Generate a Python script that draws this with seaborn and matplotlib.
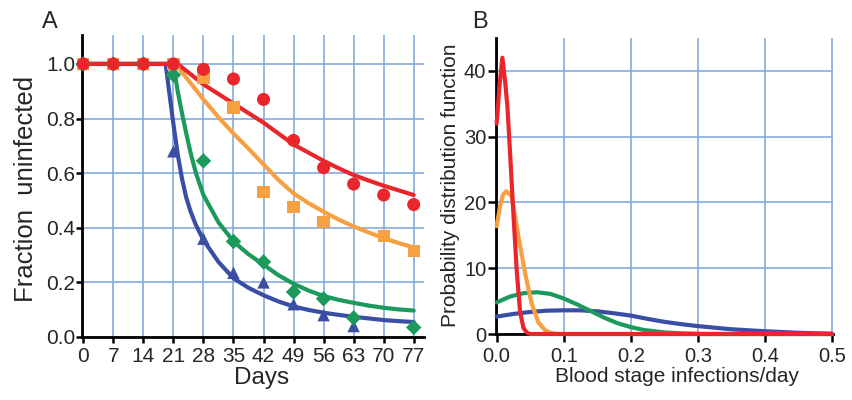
import matplotlib
matplotlib.use("Agg")
import matplotlib.pyplot as plt
from matplotlib.ticker import FormatStrFormatter
import seaborn as sns

# ---------------- Panel A data ----------------
day_ticks = [0, 7, 14, 21, 28, 35, 42, 49, 56, 63, 70, 77]
frac_ticks = [0.0, 0.2, 0.4, 0.6, 0.8, 1.0]

red_days = [0, 7, 14, 21, 28, 35, 42, 49, 56, 63, 70, 77]
red_obs = [1.0, 1.0, 1.0, 1.0, 0.98, 0.945, 0.87, 0.72, 0.62, 0.56, 0.52, 0.485]
orange_days = [0, 7, 14, 21, 28, 35, 42, 49, 56, 70, 77]
orange_obs = [1.0, 1.0, 1.0, 1.0, 0.95, 0.84, 0.53, 0.475, 0.42, 0.37, 0.315]
green_days = [0, 7, 14, 21, 28, 35, 42, 49, 56, 63, 77]
green_obs = [1.0, 1.0, 1.0, 0.96, 0.645, 0.35, 0.275, 0.165, 0.14, 0.07, 0.035]
blue_days = [0, 7, 14, 21, 28, 35, 42, 49, 56, 63]
blue_obs = [1.0, 1.0, 1.0, 0.68, 0.36, 0.235, 0.2, 0.12, 0.08, 0.04]

red_fit_days = [0, 22, 24, 28, 31.5, 35, 38.5, 42, 45.5, 49, 52.5, 56, 59.5, 63, 66.5, 70, 73.5, 77]
red_fit = [1.0, 1.0, 0.975, 0.925, 0.89, 0.855, 0.82, 0.785, 0.745, 0.705, 0.675, 0.645,
           0.618, 0.593, 0.573, 0.554, 0.537, 0.52]
orange_fit_days = [0, 21.5, 23, 25, 28, 31.5, 35, 38.5, 42, 45.5, 49, 52.5, 56, 59.5, 63,
                   66.5, 70, 73.5, 77]
orange_fit = [1.0, 1.0, 0.97, 0.93, 0.87, 0.805, 0.745, 0.69, 0.632, 0.575, 0.526, 0.49,
              0.459, 0.43, 0.405, 0.383, 0.362, 0.344, 0.328]
green_fit_days = [0, 21, 21.5, 22, 22.5, 23, 24, 25, 26.25, 28, 31.5, 35, 38.5, 42, 45.5,
                  49, 52.5, 56, 59.5, 63, 66.5, 70, 73.5, 77]
green_fit = [1.0, 1.0, 0.95, 0.9, 0.86, 0.82, 0.745, 0.675, 0.6, 0.52, 0.42, 0.35, 0.303,
             0.265, 0.226, 0.195, 0.17, 0.15, 0.136, 0.125, 0.115, 0.107, 0.101, 0.097]
blue_fit_days = [0, 19.2, 20, 21, 22, 23, 24, 25, 26.25, 28, 31.5, 35, 38.5, 42, 45.5, 49,
                 52.5, 56, 59.5, 63, 66.5, 70, 73.5, 77]
blue_fit = [1.0, 1.0, 0.9, 0.78, 0.67, 0.58, 0.51, 0.46, 0.41, 0.355, 0.275, 0.215, 0.18,
            0.153, 0.13, 0.112, 0.099, 0.089, 0.081, 0.074, 0.068, 0.062, 0.058, 0.055]

# ---------------- Panel B data ----------------
rate_ticks = [0.0, 0.1, 0.2, 0.3, 0.4, 0.5]
pdf_ticks = [0, 10, 20, 30, 40]

red_rate = [0, 0.004, 0.0085, 0.0125, 0.016, 0.02, 0.025, 0.03, 0.035, 0.04, 0.045, 0.05, 0.5]
red_pdf = [32.0, 37.5, 42.0, 38.5, 34.6, 27.5, 18.2, 9.5, 3.3, 0.9, 0.2, 0.0, 0.0]
orange_rate = [0, 0.005, 0.0095, 0.0145, 0.0225, 0.0325, 0.0425, 0.052, 0.062, 0.072, 0.08,
               0.09, 0.5]
orange_pdf = [16.4, 19.4, 21.2, 21.7, 20.9, 14.8, 9.2, 4.7, 1.8, 0.6, 0.2, 0.0, 0.0]
green_rate = [0, 0.02, 0.04, 0.06, 0.08, 0.1, 0.12, 0.14, 0.16, 0.18, 0.2, 0.22, 0.25,
              0.28, 0.31, 0.5]
green_pdf = [4.8, 5.7, 6.2, 6.35, 6.1, 5.4, 4.5, 3.5, 2.5, 1.65, 1.05, 0.6, 0.25, 0.08,
             0.0, 0.0]
blue_rate = [0, 0.025, 0.05, 0.075, 0.1, 0.125, 0.15, 0.175, 0.2, 0.225, 0.25, 0.275, 0.3,
             0.35, 0.4, 0.45, 0.5]
blue_pdf = [2.65, 3.05, 3.35, 3.55, 3.6, 3.6, 3.45, 3.15, 2.8, 2.3, 1.85, 1.5, 1.2, 0.72,
            0.42, 0.18, 0.05]

RED = "#e8262b"
ORANGE = "#f6a042"
GREEN = "#1b9a5c"
BLUE = "#3a4ea6"
GRID = "#86aadc"

sns.set_style("ticks")
plt.rcParams["font.family"] = ["Liberation Sans", "DejaVu Sans"]

fig = plt.figure(figsize=(8.53, 4.0), dpi=100)
axA = fig.add_axes([82 / 853, 1 - 337 / 400, (424 - 82) / 853, (337 - 35) / 400])
axB = fig.add_axes([496 / 853, 1 - 334 / 400, (833 - 496) / 853, (334 - 38) / 400])

LW = 3.0

# ---- Panel A ----
for dd, vv, c in [(blue_fit_days, blue_fit, BLUE), (green_fit_days, green_fit, GREEN),
                  (orange_fit_days, orange_fit, ORANGE), (red_fit_days, red_fit, RED)]:
    sns.lineplot(x=dd, y=vv, ax=axA, color=c, lw=LW, sort=False, estimator=None)

for dd, vv, c, m, s in [(blue_days, blue_obs, BLUE, "^", 80),
                        (green_days, green_obs, GREEN, "D", 62),
                        (orange_days, orange_obs, ORANGE, "s", 78),
                        (red_days, red_obs, RED, "o", 88)]:
    sns.scatterplot(x=dd, y=vv, ax=axA, color=c, marker=m, s=s, linewidth=0,
                    edgecolor="none", clip_on=False, zorder=5)

axA.set_xlim(-0.3, 79.4)
axA.set_ylim(0, 1.106)
axA.set_xticks(day_ticks)
axA.set_yticks(frac_ticks)
axA.yaxis.set_major_formatter(FormatStrFormatter("%.1f"))
axA.set_xlabel("Days", fontsize=17.5)
axA.set_ylabel("Fraction  uninfected", fontsize=18.5)
axA.xaxis.set_label_coords(0.526, -0.098)
axA.yaxis.set_label_coords(-0.128, 0.49)
axA.tick_params(axis="both", labelsize=15, length=4, width=1.8, color="black")
axA.tick_params(axis="y", pad=1)
axA.tick_params(axis="x", pad=3)

# ---- Panel B ----
for xx, yy, c in [(blue_rate, blue_pdf, BLUE), (green_rate, green_pdf, GREEN),
                  (orange_rate, orange_pdf, ORANGE), (red_rate, red_pdf, RED)]:
    sns.lineplot(x=xx, y=yy, ax=axB, color=c, lw=LW, sort=False, estimator=None,
                 clip_on=False, zorder=4)

axB.set_xlim(-0.001, 0.5015)
axB.set_ylim(0, 45)
axB.set_xticks(rate_ticks)
axB.set_yticks(pdf_ticks)
axB.xaxis.set_major_formatter(FormatStrFormatter("%.1f"))
axB.set_xlabel("Blood stage infections/day", fontsize=15)
axB.set_ylabel("Probability distribution function", fontsize=15)
axB.xaxis.set_label_coords(0.536, -0.112)
axB.yaxis.set_label_coords(-0.108, 0.502)
axB.tick_params(axis="both", labelsize=14.5, length=6, width=1.8, color="black")
axB.tick_params(axis="y", pad=1)
axB.tick_params(axis="x", pad=3.5)

for ax in (axA, axB):
    ax.set_axisbelow(True)
    ax.grid(True, color=GRID, lw=1.2)
    sns.despine(ax=ax)
    for sp in ("left", "bottom"):
        ax.spines[sp].set_linewidth(2.0)
        ax.spines[sp].set_color("black")
    if ax.get_legend() is not None:
        ax.get_legend().remove()

fig.text(50 / 853, 1 - 22 / 400, "A", fontsize=17, ha="center", va="center")
fig.text(480 / 853, 1 - 22 / 400, "B", fontsize=17, ha="center", va="center")

fig.savefig("out.png", dpi=100)
